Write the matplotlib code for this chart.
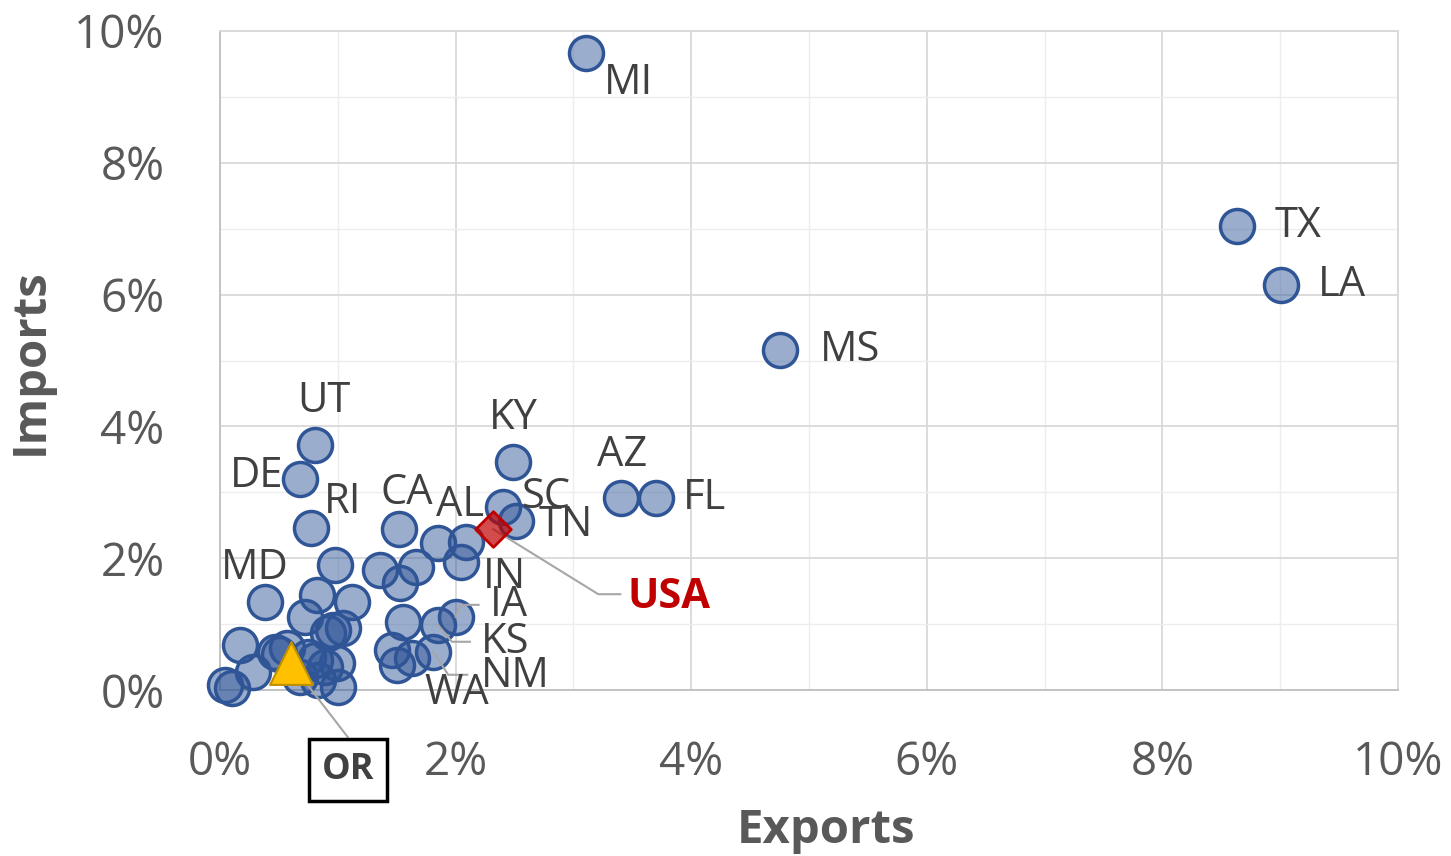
import matplotlib
matplotlib.use("Agg")
import matplotlib.pyplot as plt
from matplotlib.ticker import MultipleLocator, FuncFormatter

plt.rcParams['font.family'] = ['Open Sans', 'DejaVu Sans']

# =========================
# 1. DATA (share of state trade, %)
# =========================
labeled = ['MI', 'TX', 'LA', 'MS', 'UT', 'DE', 'KY', 'AZ', 'FL', 'RI',
           'CA', 'SC', 'TN', 'AL', 'IN', 'MD', 'IA', 'KS', 'NM', 'WA']
labeled_exports = [3.11, 8.63, 9.01, 4.75, 0.81, 0.68, 2.49, 3.40, 3.70, 0.77,
                   1.52, 2.40, 2.51, 2.09, 2.05, 0.38, 2.00, 1.85, 1.81, 1.63]
labeled_imports = [9.67, 7.04, 6.15, 5.16, 3.72, 3.20, 3.46, 2.91, 2.91, 2.46,
                   2.44, 2.78, 2.56, 2.25, 1.94, 1.34, 1.11, 0.99, 0.58, 0.49]

other_exports = [1.85, 0.98, 1.36, 1.53, 1.66, 0.82, 1.12, 0.72, 0.96, 1.04,
                 0.92, 1.55, 1.46, 1.50, 0.17, 0.28, 0.04, 0.10, 0.47, 0.57,
                 0.68, 0.81, 0.89, 0.99, 1.00, 0.83, 0.50, 0.75]
other_imports = [2.23, 1.90, 1.82, 1.62, 1.87, 1.44, 1.34, 1.11, 0.91, 0.94,
                 0.86, 1.03, 0.61, 0.38, 0.68, 0.27, 0.08, 0.03, 0.58, 0.64,
                 0.20, 0.46, 0.35, 0.41, 0.05, 0.15, 0.55, 0.50]

or_exports, or_imports = 0.60, 0.41
usa_exports, usa_imports = 2.32, 2.44

# label offsets in pixels (dx right, dy down) from the point
label_offsets = {
    'MI': (42, 30), 'TX': (61, 0), 'LA': (61, 0), 'MS': (71, 0),
    'UT': (8, -44), 'DE': (-43, -3), 'KY': (0, -44), 'AZ': (2, -43),
    'FL': (49, 0), 'RI': (32, -26), 'CA': (8, -36), 'AL': (-6, -37),
    'SC': (44, -10), 'TN': (50, 4), 'IN': (43, 15), 'MD': (-10, -34),
    'IA': (53, -12), 'KS': (67, 17), 'NM': (82, 24), 'WA': (45, 35),
}
# leader lines: elbow and end, pixels from the point
leaders = {
    'IA': [(5, -12), (23, -12)],
    'KS': [(14, 17), (32, 17)],
    'NM': [(15, 23), (34, 23)],
}

# =========================
# 2. FIGURE
# =========================
W, H = 1451, 856
fig = plt.figure(figsize=(W / 100, H / 100), dpi=100)
ax = fig.add_axes([220 / W, 1 - 690 / H, (1398 - 220) / W, (690 - 31) / H])
PXX = (1398 - 220) / 10.0
PXY = (690 - 31) / 10.0


def shift(x, y, dx, dy):
    return x + dx / PXX, y - dy / PXY


ax.set_xlim(0, 10)
ax.set_ylim(0, 10)
ax.xaxis.set_major_locator(MultipleLocator(2))
ax.yaxis.set_major_locator(MultipleLocator(2))
ax.xaxis.set_minor_locator(MultipleLocator(1))
ax.yaxis.set_minor_locator(MultipleLocator(1))
pct = FuncFormatter(lambda v, p: f"{v:.0f}%")
ax.xaxis.set_major_formatter(pct)
ax.yaxis.set_major_formatter(pct)
ax.grid(which='major', color='#D9D9D9', lw=1.3)
ax.grid(which='minor', color='#EDEDED', lw=1.0)
ax.set_axisbelow(True)
ax.tick_params(which='both', length=0)
ax.tick_params(axis='x', pad=36, labelsize=33, labelcolor='#595959')
ax.tick_params(axis='y', pad=40, labelsize=33, labelcolor='#595959')
for side in ['left', 'bottom']:
    ax.spines[side].set_color('#BFBFBF')
    ax.spines[side].set_linewidth(1.3)
for side in ['top', 'right']:
    ax.spines[side].set_color('#D9D9D9')
    ax.spines[side].set_linewidth(1.3)

# =========================
# 3. POINTS
# =========================
face = (0.184, 0.333, 0.592, 0.48)
ax.scatter(other_exports + labeled_exports, other_imports + labeled_imports,
           s=600, facecolor=face, edgecolor='#2F5597', linewidth=2.5,
           clip_on=False, zorder=3)
ax.scatter([usa_exports], [usa_imports], marker='D', s=330,
           facecolor=(0.75, 0.0, 0.0, 0.7), edgecolor='#C00000', linewidth=2,
           clip_on=False, zorder=5)
ax.scatter([or_exports], [or_imports], marker='^', s=950,
           facecolor='#FFC000', edgecolor='#BF9000', linewidth=1.5,
           clip_on=False, zorder=5)

# =========================
# 4. LABELS
# =========================
for name, x, y in zip(labeled, labeled_exports, labeled_imports):
    dx, dy = label_offsets[name]
    ax.annotate(name, (x, y), xytext=(dx, -dy), textcoords='offset pixels',
                ha='center', va='center', fontsize=30, color='#404040',
                zorder=6)
    if name in leaders:
        pts = [(x, y)] + [shift(x, y, a, b) for a, b in leaders[name]]
        ax.plot([p[0] for p in pts], [p[1] for p in pts], color='#A6A6A6',
                lw=1.5, zorder=4, clip_on=False)

# USA
pts = [(usa_exports, usa_imports),
       shift(usa_exports, usa_imports, 105, 65),
       shift(usa_exports, usa_imports, 127, 65)]
ax.plot([p[0] for p in pts], [p[1] for p in pts], color='#A6A6A6', lw=1.5,
        zorder=4, clip_on=False)
tx, ty = shift(usa_exports, usa_imports, 134, 68)
ax.text(tx, ty, 'USA', ha='left', va='center', fontsize=30,
        fontweight='bold', color='#C00000', zorder=6)

# OR
bx, by = shift(or_exports, or_imports, 57, 74)
ax.plot([or_exports, bx], [or_imports, by], color='#A6A6A6', lw=1.5,
        zorder=4, clip_on=False)
cx, cy = shift(or_exports, or_imports, 57, 107)
ax.text(cx, cy, 'OR', ha='center', va='center', fontsize=26,
        fontweight='bold', color='#404040', zorder=6, clip_on=False,
        bbox=dict(boxstyle='square,pad=0.35', facecolor='white',
                  edgecolor='black', linewidth=2.5))

# axis titles
fig.text(826 / W, 1 - 830 / H, 'Exports', ha='center', va='center',
         fontsize=34, fontweight='bold', color='#595959')
fig.text(30 / W, 1 - 362 / H, 'Imports', ha='center', va='center',
         rotation=90, fontsize=34, fontweight='bold', color='#595959')

fig.savefig('out.png', dpi=100)
